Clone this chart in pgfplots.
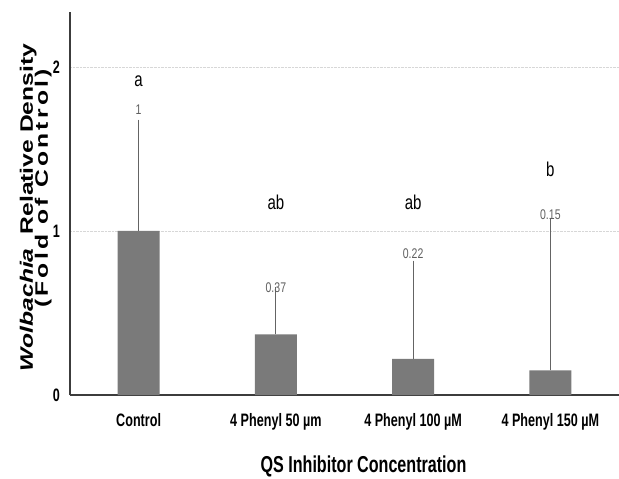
\documentclass[border=0pt]{standalone}
\usepackage{fontspec}
\setmainfont{Liberation Sans}
\newfontfamily\condfont[FakeStretch=0.70]{Liberation Sans}
\newfontfamily\ylabfont[FakeStretch=1.37]{Liberation Sans}
\newfontfamily\ylabBfont[FakeStretch=1.37,LetterSpace=18]{Liberation Sans}
\newfontfamily\valfont[FakeStretch=0.75]{Liberation Sans}
\usepackage{pgfplots}
\pgfplotsset{compat=1.18}
\definecolor{barcol}{RGB}{122,122,122}
\definecolor{axcol}{RGB}{60,60,60}
\definecolor{errcol}{RGB}{100,100,100}
\definecolor{valcol}{RGB}{95,95,95}
\definecolor{gridcol}{RGB}{215,215,215}
\begin{document}
\begin{tikzpicture}
\useasboundingbox (-70bp,-84bp) rectangle (549bp,395bp);
\begin{axis}[
  at={(0,0)}, anchor=south west,
  scale only axis, width=549bp, height=383bp,
  xmin=-0.5, xmax=3.5, ymin=0, ymax=2.335,
  axis x line*=bottom, axis y line*=left,
  axis line style={line width=1.5bp, color=axcol},
  xtick={0,1,2,3},
  xticklabels={Control,4 Phenyl 50 µm,4 Phenyl 100 µM,4 Phenyl 150 µM},
  ytick={0,1,2},
  major tick length=0pt,
  /pgf/number format/assume math mode=true,
  xticklabel style={font=\condfont\bfseries\fontsize{18bp}{20bp}\selectfont, anchor=base, inner sep=0pt, yshift=-31bp},
  yticklabel style={font=\condfont\bfseries\fontsize{18bp}{20bp}\selectfont, anchor=east, inner sep=0pt, xshift=-10bp},
  ymajorgrids, grid style={densely dotted, color=gridcol, line width=0.6bp},
  xlabel={QS Inhibitor Concentration},
  xlabel style={font=\condfont\bfseries\fontsize{23bp}{26bp}\selectfont, at={(axis description cs:0.5,0)}, anchor=base, inner sep=0pt, yshift=-77bp, xshift=19bp},
  ylabel={\ylabfont\bfseries\fontsize{18bp}{20bp}\selectfont{\itshape Wolbachia}\hspace{14bp}Relative Density},
  ylabel style={at={(axis description cs:0,0.4896)}, anchor=base, inner sep=0pt, yshift=37bp},
  extra description/.code={
    \node[xshift=-22bp, rotate=90, anchor=base, inner sep=0pt, font=\ylabBfont\bfseries\fontsize{18bp}{20bp}\selectfont] at (axis description cs:0,0.539) {(Fold of Control)};
  },
  clip=false,
]
\addplot[ybar, bar width=42bp, fill=barcol, draw=none,
  error bars/.cd, y dir=plus, y explicit,
  error bar style={line width=0.8bp, color=errcol},
  error mark options={mark size=1.5bp, line width=0.8bp, color=errcol}]
  coordinates {
  (0,1.00) +- (0,0.67)
  (1,0.37) +- (0,0.28)
  (2,0.22) +- (0,0.59)
  (3,0.15) +- (0,0.92)
};
% value labels
\addplot[only marks, mark=none, point meta=explicit symbolic, nodes near coords,
  every node near coord/.append style={anchor=base, inner sep=0pt, font=\valfont\fontsize{14bp}{16bp}\selectfont, text=valcol}]
  coordinates {
  (0,1.713) [1]
  (1,0.622) [0.37]
  (2,0.835) [0.22]
  (3,1.067) [0.15]
};
% significance letters
\addplot[only marks, mark=none, point meta=explicit symbolic, nodes near coords,
  every node near coord/.append style={anchor=base, inner sep=0pt, font=\valfont\fontsize{20bp}{22bp}\selectfont, text=black}]
  coordinates {
  (0,1.878) [a]
  (1,1.128) [ab]
  (2,1.128) [ab]
  (3,1.335) [b]
};
\end{axis}
\end{tikzpicture}
\end{document}
